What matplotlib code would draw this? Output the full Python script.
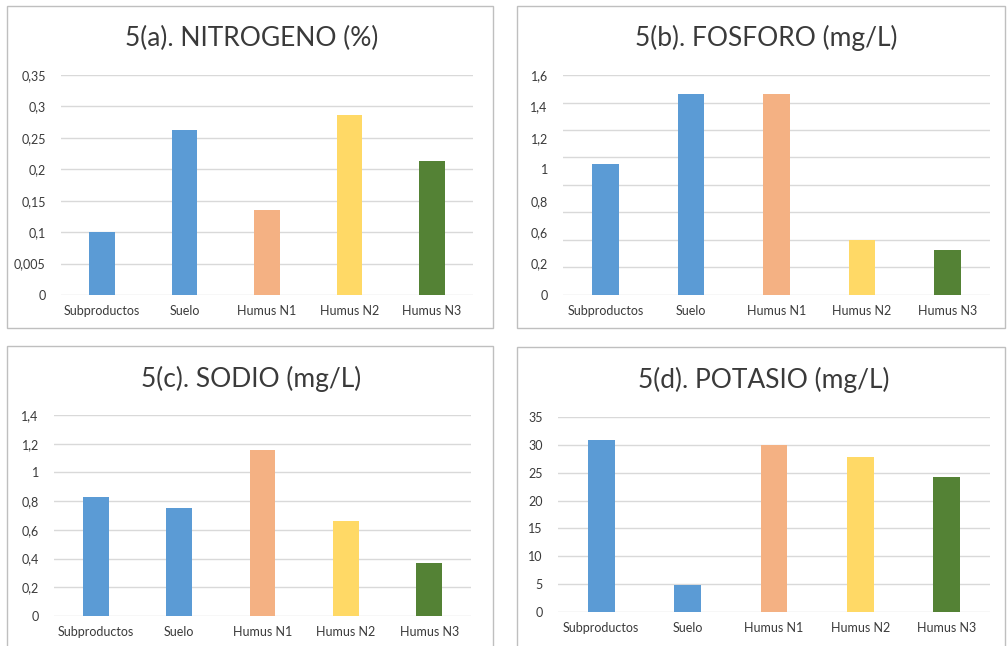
import matplotlib
matplotlib.use("Agg")
import matplotlib.pyplot as plt
from matplotlib.patches import Rectangle
import numpy as np

plt.rcParams['font.family'] = ['Lato', 'DejaVu Sans']

categories = ["Subproductos", "Suelo", "Humus N1", "Humus N2", "Humus N3"]
colors = ["#5B9BD5", "#5B9BD5", "#F4B183", "#FFD966", "#548235"]

nitrogeno = [0.10, 0.263, 0.136, 0.286, 0.213]
fosforo = [0.955, 1.46, 1.46, 0.40, 0.33]
sodio = [0.828, 0.755, 1.156, 0.66, 0.372]
potasio = [30.9, 4.9, 30.0, 27.9, 24.3]

titles = ["5(a). NITROGENO (%)", "5(b). FOSFORO (mg/L)",
          "5(c). SODIO (mg/L)", "5(d). POTASIO (mg/L)"]

# grid values and (possibly inconsistent) tick labels as printed in the source
grid_a = [0, 0.05, 0.10, 0.15, 0.20, 0.25, 0.30, 0.35]
labels_a = ["0", "0,005", "0,1", "0,15", "0,2", "0,25", "0,3", "0,35"]
grid_b = [0, 0.2, 0.4, 0.6, 0.8, 1.0, 1.2, 1.4, 1.6]
labels_b = ["1,6", "1,4", "1,2", "1", "0,8", "0,6", "0,2", "0"]
grid_c = [0, 0.2, 0.4, 0.6, 0.8, 1.0, 1.2, 1.4]
labels_c = ["0", "0,2", "0,4", "0,6", "0,8", "1", "1,2", "1,4"]
grid_d = [0, 5, 10, 15, 20, 25, 30, 35]
labels_d = ["0", "5", "10", "15", "20", "25", "30", "35"]

W, H = 1007, 646
fig = plt.figure(figsize=(W / 100, H / 100), dpi=100)
fig.patch.set_facecolor("white")

TXT = "#3A3A3A"
GRID = "#D9D9D9"

def fx(px):
    return px / W

def fy(py):
    return 1 - py / H

# panel borders (pixel boxes: x0, y0, x1, y1)
borders = [(7, 6, 493, 328), (517, 6, 1005, 328), (7, 346, 493, 660), (517, 347, 1005, 660)]
for (x0, y0, x1, y1) in borders:
    fig.add_artist(Rectangle((fx(x0), fy(y1)), fx(x1 - x0), (y1 - y0) / H,
                             transform=fig.transFigure, fill=False,
                             edgecolor="#BFBFBF", linewidth=1.0))

# plot areas (pixel boxes)
areas = [(61, 75, 473, 295), (563, 75, 990, 295), (54, 415, 471, 616), (558, 417, 990, 612)]
title_pos = [(252, 38), (766, 38), (251, 379), (764, 380)]
datas = [nitrogeno, fosforo, sodio, potasio]
grids = [grid_a, grid_b, grid_c, grid_d]
labels = [labels_a, labels_b, labels_c, labels_d]

for i in range(4):
    x0, y0, x1, y1 = areas[i]
    ax = fig.add_axes([fx(x0), fy(y1), fx(x1 - x0), (y1 - y0) / H])
    ax.set_facecolor("none")
    x = np.arange(len(categories))
    ax.bar(x, datas[i], width=0.31, color=colors, zorder=3)
    g = grids[i]
    ax.set_ylim(g[0], g[-1])
    ax.set_xlim(-0.5, len(categories) - 0.5)
    for v in g:
        ax.axhline(v, color=GRID, linewidth=1.0, zorder=1)
    if i == 1:
        pos = np.linspace(g[-1], g[0], len(labels[i]))
        ax.set_yticks(pos)
        ax.set_yticklabels(labels[i])
    else:
        ax.set_yticks(g)
        ax.set_yticklabels(labels[i])
    ax.set_xticks(x)
    ax.set_xticklabels(categories)
    ax.tick_params(axis="y", length=0, pad=11, labelsize=9, labelcolor=TXT)
    ax.tick_params(axis="x", length=0, pad=7, labelsize=9, labelcolor=TXT)
    for s in ax.spines.values():
        s.set_visible(False)
    tx, ty = title_pos[i]
    fig.text(fx(tx), fy(ty), titles[i], ha="center", va="center",
             fontsize=19, color=TXT)

fig.savefig("out.png", dpi=100, facecolor="white")
